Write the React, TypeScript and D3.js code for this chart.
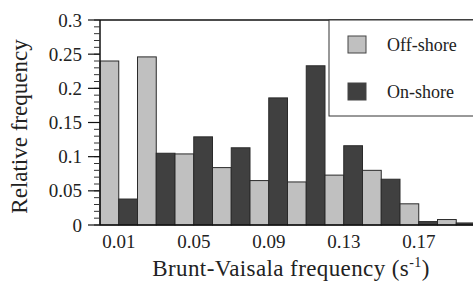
import React from "react";
import * as d3 from "d3";

// bin centres (s^-1), bins are 0.02 wide
const bins = [0.01, 0.03, 0.05, 0.07, 0.09, 0.11, 0.13, 0.15, 0.17, 0.19];
const offShore = [0.24, 0.246, 0.104, 0.084, 0.065, 0.063, 0.073, 0.08, 0.031, 0.008];
const onShore = [0.038, 0.105, 0.129, 0.113, 0.186, 0.233, 0.116, 0.067, 0.005, 0.003];
const xTickLabels = ["0.01", "0.05", "0.09", "0.13", "0.17"];
const yTicks = [0, 0.05, 0.1, 0.15, 0.2, 0.25, 0.3];
const seriesNames = ["Off-shore", "On-shore"];

const W = 473;
const H = 287;
const left = 100;
const right = 475;
const top = 20;
const bottom = 225;
const font = "Liberation Serif, Times New Roman, serif";
const colors = ["#c0c0c0", "#404040"];

export default function App() {
  const x = d3.scaleLinear().domain([0, 0.2]).range([left, right]);
  const y = d3.scaleLinear().domain([0, 0.3]).range([bottom, top]);
  const half = 0.01;
  const minor = d3.range(0, 0.3001, 0.01);

  return (
    <svg
      width={W}
      height={H}
      style={{ position: "absolute", left: 0, top: 0, background: "#fff", fontFamily: font }}
    >
      {bins.map((b, i) => (
        <g key={b}>
          <rect
            x={x(b - half)}
            y={y(offShore[i])}
            width={x(b) - x(b - half)}
            height={y(0) - y(offShore[i])}
            fill={colors[0]}
            stroke="#2a2a2a"
            strokeWidth={1}
          />
          <rect
            x={x(b)}
            y={y(onShore[i])}
            width={x(b + half) - x(b)}
            height={y(0) - y(onShore[i])}
            fill={colors[1]}
            stroke="#2a2a2a"
            strokeWidth={1}
          />
        </g>
      ))}

      {/* frame */}
      <line x1={left} x2={W} y1={top} y2={top} stroke="#111" strokeWidth={1.5} />
      <line x1={left} x2={left} y1={top} y2={bottom} stroke="#111" strokeWidth={1.5} />
      <line x1={left} x2={W} y1={bottom} y2={bottom} stroke="#111" strokeWidth={1.5} />

      {/* y ticks */}
      {minor.map((t) => (
        <line key={t} x1={left - 6} x2={left} y1={y(t)} y2={y(t)} stroke="#333" strokeWidth={1} />
      ))}
      {yTicks.map((t) => (
        <g key={t}>
          <line x1={left - 12} x2={left} y1={y(t)} y2={y(t)} stroke="#111" strokeWidth={1.2} />
          <text x={82} y={y(t)} dy="0.35em" textAnchor="end" fontSize={19} fill="#222">
            {t === 0 ? "0" : String(t)}
          </text>
        </g>
      ))}

      {/* x tick labels */}
      {xTickLabels.map((t) => (
        <text key={t} x={x(+t)} y={248} textAnchor="middle" fontSize={19} fill="#222">
          {t}
        </text>
      ))}

      {/* axis titles */}
      <text x={291} y={276} textAnchor="middle" fontSize={23} letterSpacing={0.4} fill="#222">
        Brunt-Vaisala frequency (s
        <tspan dy={-9} fontSize={14}>-1</tspan>
        <tspan dy={9}>)</tspan>
      </text>
      <text
        transform={`translate(27, ${(top + bottom) / 2 + 4}) rotate(-90)`}
        textAnchor="middle"
        fontSize={23}
        fill="#222"
      >
        Relative frequency
      </text>

      {/* legend */}
      <rect x={329} y={top} width={W - 329 + 2} height={96} fill="#fff" stroke="#333" strokeWidth={1} />
      {seriesNames.map((name, i) => (
        <g key={name}>
          <rect x={348} y={36 + i * 47} width={18} height={17} fill={colors[i]} stroke="#444" strokeWidth={1} />
          <text x={387} y={45 + i * 47} dy="0.35em" fontSize={18} fill="#222">
            {name}
          </text>
        </g>
      ))}
    </svg>
  );
}
